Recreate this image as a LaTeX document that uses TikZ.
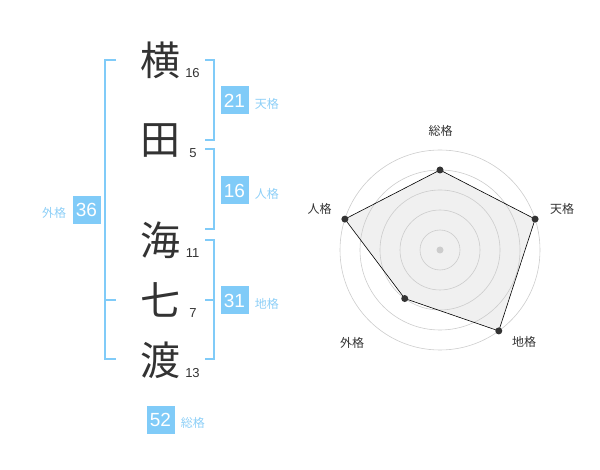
\documentclass[tikz,border=0pt]{standalone}
\usepackage{fontspec}
\setmainfont{Liberation Sans}
\newfontfamily\jpfont{Noto Sans CJK JP}
\usetikzlibrary{positioning}
\definecolor{kakublue}{HTML}{80CBF8}
\definecolor{kakutext}{HTML}{8DCFF7}
\definecolor{inkgray}{HTML}{333333}
\definecolor{ringgray}{HTML}{CCCCCC}
\definecolor{areagray}{HTML}{F0F0F0}
\tikzstyle{kanji} = [%
  inner sep=0pt,
  text=inkgray,
  font=\jpfont\fontsize{40}{40}\selectfont
]
\tikzstyle{strokes} = [%
  inner sep=0pt,
  text=inkgray,
  font=\fontsize{13}{13}\selectfont
]
\tikzstyle{kbox} = [%
  fill=kakublue,
  minimum size=28pt,
  inner sep=0pt,
  text=white,
  font=\fontsize{19}{19}\selectfont
]
\tikzstyle{klabel} = [%
  inner sep=0pt,
  text=kakutext,
  font=\jpfont\fontsize{12}{12}\selectfont
]

\begin{document}
\begin{tikzpicture}[%
  x=1pt, y=-1pt,
  bracket/.style={draw=kakublue, line width=2pt},
  ring/.style={draw=ringgray, line width=0.6pt},
  axislabel/.style={%
    inner sep=0pt,
    text=inkgray,
    font=\jpfont\fontsize{12}{12}\selectfont
  },
  dot/.style={circle, fill=inkgray, inner sep=0pt, minimum size=7pt}
]
  \useasboundingbox (0,0) rectangle (600,470);

  % Name characters
  \node[kanji] (K1) at (160,60) {横};
  \node[kanji] (K2) at (160,141) {田};
  \node[kanji] (K3) at (160,240) {海};
  \node[kanji] (K4) at (160,300) {七};
  \node[kanji] (K5) at (160,360) {渡};

  % Stroke counts
  \node[strokes] (N1) at (192.5,73) {16};
  \node[strokes] (N2) at (193,153) {5};
  \node[strokes] (N3) at (192.5,253) {11};
  \node[strokes] (N4) at (193,313) {7};
  \node[strokes] (N5) at (192.5,373) {13};

  % Brackets
  \draw[bracket] (116,60) -- (105,60) -- (105,359) -- (116,359);
  \draw[bracket] (105,300) -- (116,300);
  \draw[bracket] (205,60) -- (214,60) -- (214,140) -- (205,140);
  \draw[bracket] (205,149) -- (214,149) -- (214,229) -- (205,229);
  \draw[bracket] (205,240) -- (214,240) -- (214,359) -- (205,359);
  \draw[bracket] (205,300) -- (214,300);

  % Score boxes
  \node[kbox] (B1) at (234.5,100.5) {21};
  \node[klabel,right=6pt of B1,yshift=-3pt] (L1) {天格};
  \node[kbox] (B2) at (234.5,190.5) {16};
  \node[klabel,right=6pt of B2,yshift=-3pt] (L2) {人格};
  \node[kbox] (B3) at (234.5,300.5) {31};
  \node[klabel,right=6pt of B3,yshift=-3pt] (L3) {地格};
  \node[kbox] (B4) at (86.5,210) {36};
  \node[klabel,left=6pt of B4,yshift=-3pt] (L4) {外格};
  \node[kbox] (B5) at (160.5,419.5) {52};
  \node[klabel,right=6pt of B5,yshift=-3pt] (L5) {総格};

  % Radar chart
  \coordinate (C) at (440,250);
  \foreach \n/\a/\r in {1/-90/80, 2/-18/100, 3/54/100, 4/126/60, 5/-162/100}
    \path (C) ++(\a:\r) coordinate (P\n);
  \fill[areagray] (P1) -- (P2) -- (P3) -- (P4) -- (P5) -- cycle;
  \foreach \r in {20,40,...,100}
    \draw[ring] (C) circle (\r);
  \node[circle, fill=ringgray, inner sep=0pt, minimum size=7pt] (C0) at (C) {};
  \draw[black, line width=0.6pt] (P1) -- (P2) -- (P3) -- (P4) -- (P5) -- cycle;
  \foreach \n in {1,...,5}
    \node[dot] (D\n) at (P\n) {};

  % Axis labels
  \node[axislabel] (A1) at (440.5,131) {総格};
  \node[axislabel] (A2) at (562,208.5) {天格};
  \node[axislabel] (A3) at (524,342) {地格};
  \node[axislabel] (A4) at (352,342.5) {外格};
  \node[axislabel] (A5) at (319.5,208.5) {人格};

\end{tikzpicture}
\end{document}
